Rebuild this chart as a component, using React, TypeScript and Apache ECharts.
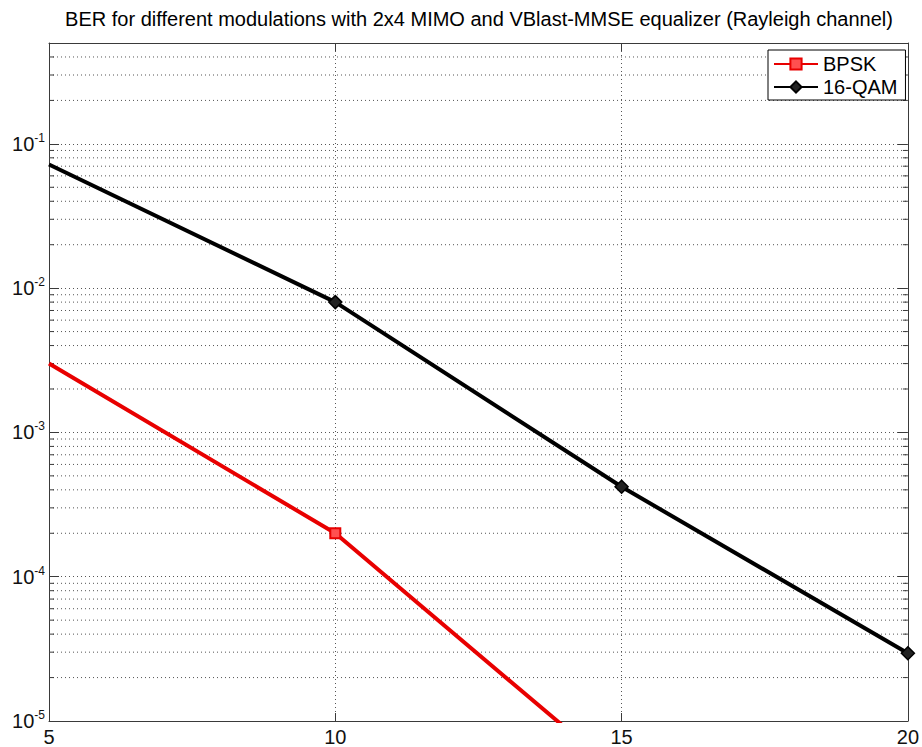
import React, { useEffect, useRef } from "react";
import * as echarts from "echarts";

// SNR (dB) sample points and bit error rates per modulation
const snrBpsk = [5, 10, 15];
const berBpsk = [3.0e-3, 2.0e-4, 4.2e-6];
const snrQam = [5, 10, 15, 20];
const berQam = [0.072, 8.0e-3, 4.2e-4, 2.95e-5];

const xTicks = [5, 10, 15, 20];
const yDecades = [-5, -4, -3, -2, -1];
const yMin = 1e-5;
const yMax = 0.5;

const TITLE =
  "BER for different modulations with 2x4 MIMO and VBlast-MMSE equalizer (Rayleigh channel)";

const FONT = "Liberation Sans, Arial, Helvetica, sans-serif";
const AXIS_COLOR = "#3a3a3a";
const GRID_COLOR = "#555";

// plot box edges
const GRID_LEFT = 49;
const GRID_RIGHT = 13;
const WIDTH = 922;

// minor log grid values (2..9 x 10^k) inside the plotted range
const minorValues: number[] = [];
yDecades.forEach((d) => {
  for (let m = 2; m <= 9; m++) {
    const v = m * Math.pow(10, d);
    if (v < yMax) minorValues.push(v);
  }
});

export default function App() {
  const ref = useRef<HTMLDivElement>(null);

  useEffect(() => {
    if (!ref.current) return;
    const chart = echarts.init(ref.current, null, { renderer: "svg" });

    const yLabel = (v: number) => {
      const e = Math.round(Math.log10(v));
      if (Math.abs(Math.log10(v) - e) > 1e-6) return "";
      return "{b|10}{s|" + e + "}";
    };

    const logAxisBase = {
      type: "log" as const,
      logBase: 10,
      min: yMin,
      max: yMax,
      axisLine: { show: true, lineStyle: { color: AXIS_COLOR, width: 1 } },
      axisTick: { show: true, inside: true, length: 10, lineStyle: { color: AXIS_COLOR } },
      minorTick: { show: false },
    };

    chart.setOption({
      animation: false,
      backgroundColor: "#fff",
      // title centred over the plot box
      graphic: [
        {
          type: "text",
          x: (GRID_LEFT + WIDTH - GRID_RIGHT) / 2,
          y: 9,
          style: {
            text: TITLE,
            textAlign: "center",
            fontFamily: FONT,
            fontSize: 20,
            fill: "#000",
          },
        },
      ],
      grid: { left: GRID_LEFT, right: GRID_RIGHT, top: 43, bottom: 26, containLabel: false },
      legend: {
        data: ["BPSK", "16-QAM"],
        orient: "vertical",
        left: 768,
        top: 50,
        itemWidth: 44,
        itemHeight: 14,
        itemGap: 3,
        padding: [4, 8, 3, 5],
        borderColor: "#000",
        borderWidth: 1,
        backgroundColor: "#fff",
        textStyle: { fontFamily: FONT, fontSize: 20, color: "#000" },
      },
      xAxis: [
        {
          type: "value",
          min: 5,
          max: 20,
          interval: 5,
          position: "bottom",
          axisLine: { show: true, lineStyle: { color: AXIS_COLOR, width: 1 } },
          axisTick: { show: true, inside: true, length: 8, lineStyle: { color: AXIS_COLOR } },
          axisLabel: {
            margin: 6,
            fontFamily: FONT,
            fontSize: 20,
            color: "#111",
            formatter: (v: number) => (xTicks.includes(v) ? String(v) : ""),
          },
          splitLine: { show: true, lineStyle: { color: GRID_COLOR, type: [1, 3], width: 1 } },
        },
        {
          type: "value",
          min: 5,
          max: 20,
          interval: 5,
          position: "top",
          axisLine: { show: true, lineStyle: { color: AXIS_COLOR, width: 1 } },
          axisTick: { show: true, inside: true, length: 8, lineStyle: { color: AXIS_COLOR } },
          axisLabel: { show: false },
          splitLine: { show: false },
        },
      ],
      yAxis: [
        {
          ...logAxisBase,
          position: "left",
          axisLabel: {
            margin: 4,
            formatter: yLabel,
            rich: {
              b: { fontFamily: FONT, fontSize: 20, color: "#111", lineHeight: 24, verticalAlign: "middle" },
              s: { fontFamily: FONT, fontSize: 12, color: "#111", lineHeight: 12, verticalAlign: "top" },
            },
          },
          splitLine: { show: true, lineStyle: { color: GRID_COLOR, type: [1, 3], width: 1 } },
        },
        {
          ...logAxisBase,
          position: "right",
          axisLabel: { show: false },
          splitLine: { show: false },
        },
      ],
      series: [
        {
          name: "minor-grid",
          type: "custom",
          xAxisIndex: 0,
          yAxisIndex: 0,
          silent: true,
          z: 1,
          data: minorValues.map((v) => [5, v]),
          encode: { x: 0, y: 1 },
          renderItem: (params: any, api: any) => {
            const cs = params.coordSys;
            const y = api.coord([5, api.value(1)])[1];
            const x0 = cs.x;
            const x1 = cs.x + cs.width;
            return {
              type: "group",
              children: [
                {
                  type: "line",
                  shape: { x1: x0, y1: y, x2: x1, y2: y },
                  style: { stroke: GRID_COLOR, lineWidth: 1, lineDash: [1, 3] },
                },
                {
                  type: "line",
                  shape: { x1: x0, y1: y, x2: x0 + 5, y2: y },
                  style: { stroke: AXIS_COLOR, lineWidth: 1 },
                },
                {
                  type: "line",
                  shape: { x1: x1 - 5, y1: y, x2: x1, y2: y },
                  style: { stroke: AXIS_COLOR, lineWidth: 1 },
                },
              ],
            };
          },
        },
        {
          name: "BPSK",
          type: "line",
          z: 5,
          clip: true,
          data: snrBpsk.map((x, i) =>
            i === 0 ? { value: [x, berBpsk[i]], symbol: "none" } : { value: [x, berBpsk[i]] }
          ),
          symbol: "rect",
          symbolSize: 10,
          showAllSymbol: true,
          lineStyle: { color: "#e80000", width: 4 },
          itemStyle: { color: "#ff5050", borderColor: "#e80000", borderWidth: 2 },
        },
        {
          name: "16-QAM",
          type: "line",
          z: 6,
          clip: true,
          data: snrQam.map((x, i) =>
            i === 0 ? { value: [x, berQam[i]], symbol: "none" } : { value: [x, berQam[i]] }
          ),
          symbol: "diamond",
          symbolSize: 13,
          showAllSymbol: true,
          lineStyle: { color: "#000", width: 4 },
          itemStyle: { color: "#222", borderColor: "#000", borderWidth: 1.5 },
        },
      ],
    });

    return () => chart.dispose();
  }, []);

  return (
    <div
      ref={ref}
      style={{ position: "fixed", left: 0, top: 0, width: WIDTH, height: 747, background: "#fff" }}
    />
  );
}
